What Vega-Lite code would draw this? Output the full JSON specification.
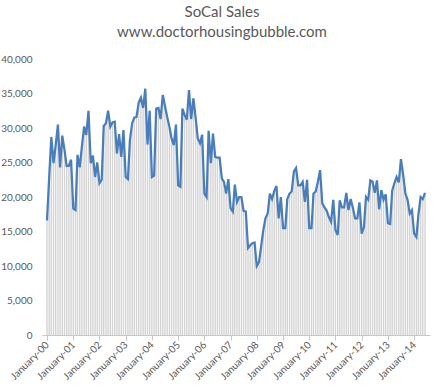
{
  "$schema": "https://vega.github.io/schema/vega-lite/v6.json",
  "width": 388,
  "height": 276,
  "autosize": {"type": "none"},
  "padding": {"left": 42, "top": 59, "right": 7, "bottom": 53},
  "background": "white",
  "config": {"view": {"stroke": null}, "font": "Lato"},
  "title": {
    "text": "SoCal Sales",
    "subtitle": "www.doctorhousingbubble.com",
    "anchor": "middle",
    "dx": -14,
    "fontSize": 15,
    "subtitleFontSize": 15,
    "fontWeight": "normal",
    "color": "#595959",
    "subtitleColor": "#595959",
    "font": "Lato",
    "subtitleFont": "Lato",
    "subtitlePadding": 5,
    "offset": 14
  },
  "data": {"values": [
    {"d":"2000-01","v":16600},{"d":"2000-02","v":23000},{"d":"2000-03","v":28700},{"d":"2000-04","v":24900},{"d":"2000-05","v":27500},{"d":"2000-06","v":30500},{"d":"2000-07","v":24300},{"d":"2000-08","v":28900},{"d":"2000-09","v":26800},{"d":"2000-10","v":24500},{"d":"2000-11","v":24500},{"d":"2000-12","v":25400},
    {"d":"2001-01","v":18300},{"d":"2001-02","v":18100},{"d":"2001-03","v":26100},{"d":"2001-04","v":24300},{"d":"2001-05","v":27300},{"d":"2001-06","v":30200},{"d":"2001-07","v":29000},{"d":"2001-08","v":32500},{"d":"2001-09","v":24900},{"d":"2001-10","v":26000},{"d":"2001-11","v":22900},{"d":"2001-12","v":25000},
    {"d":"2002-01","v":22000},{"d":"2002-02","v":22500},{"d":"2002-03","v":30300},{"d":"2002-04","v":30700},{"d":"2002-05","v":32500},{"d":"2002-06","v":30200},{"d":"2002-07","v":30800},{"d":"2002-08","v":30900},{"d":"2002-09","v":26300},{"d":"2002-10","v":29100},{"d":"2002-11","v":25800},{"d":"2002-12","v":29700},
    {"d":"2003-01","v":22900},{"d":"2003-02","v":22600},{"d":"2003-03","v":28300},{"d":"2003-04","v":30700},{"d":"2003-05","v":31500},{"d":"2003-06","v":31600},{"d":"2003-07","v":33700},{"d":"2003-08","v":34400},{"d":"2003-09","v":32900},{"d":"2003-10","v":35700},{"d":"2003-11","v":27600},{"d":"2003-12","v":32500},
    {"d":"2004-01","v":22900},{"d":"2004-02","v":23100},{"d":"2004-03","v":32800},{"d":"2004-04","v":32900},{"d":"2004-05","v":31300},{"d":"2004-06","v":34800},{"d":"2004-07","v":33200},{"d":"2004-08","v":31600},{"d":"2004-09","v":30200},{"d":"2004-10","v":28500},{"d":"2004-11","v":27500},{"d":"2004-12","v":30500},
    {"d":"2005-01","v":21700},{"d":"2005-02","v":21500},{"d":"2005-03","v":32800},{"d":"2005-04","v":31900},{"d":"2005-05","v":31200},{"d":"2005-06","v":35500},{"d":"2005-07","v":31300},{"d":"2005-08","v":34300},{"d":"2005-09","v":31500},{"d":"2005-10","v":28500},{"d":"2005-11","v":27800},{"d":"2005-12","v":29000},
    {"d":"2006-01","v":20500},{"d":"2006-02","v":20000},{"d":"2006-03","v":29600},{"d":"2006-04","v":24900},{"d":"2006-05","v":29200},{"d":"2006-06","v":25800},{"d":"2006-07","v":25700},{"d":"2006-08","v":25700},{"d":"2006-09","v":22700},{"d":"2006-10","v":22200},{"d":"2006-11","v":20500},{"d":"2006-12","v":22600},
    {"d":"2007-01","v":18400},{"d":"2007-02","v":17900},{"d":"2007-03","v":21800},{"d":"2007-04","v":19300},{"d":"2007-05","v":20000},{"d":"2007-06","v":20000},{"d":"2007-07","v":18000},{"d":"2007-08","v":17900},{"d":"2007-09","v":12600},{"d":"2007-10","v":13000},{"d":"2007-11","v":13300},{"d":"2007-12","v":13400},
    {"d":"2008-01","v":10000},{"d":"2008-02","v":10600},{"d":"2008-03","v":12800},{"d":"2008-04","v":15200},{"d":"2008-05","v":16900},{"d":"2008-06","v":17600},{"d":"2008-07","v":20500},{"d":"2008-08","v":19700},{"d":"2008-09","v":20900},{"d":"2008-10","v":21600},{"d":"2008-11","v":16900},{"d":"2008-12","v":20000},
    {"d":"2009-01","v":15500},{"d":"2009-02","v":15500},{"d":"2009-03","v":19700},{"d":"2009-04","v":20500},{"d":"2009-05","v":20800},{"d":"2009-06","v":23700},{"d":"2009-07","v":24200},{"d":"2009-08","v":21700},{"d":"2009-09","v":21700},{"d":"2009-10","v":22200},{"d":"2009-11","v":19300},{"d":"2009-12","v":22500},
    {"d":"2010-01","v":15500},{"d":"2010-02","v":15500},{"d":"2010-03","v":20500},{"d":"2010-04","v":20800},{"d":"2010-05","v":22200},{"d":"2010-06","v":23900},{"d":"2010-07","v":19100},{"d":"2010-08","v":18500},{"d":"2010-09","v":18000},{"d":"2010-10","v":17100},{"d":"2010-11","v":16400},{"d":"2010-12","v":19600},
    {"d":"2011-01","v":15200},{"d":"2011-02","v":14500},{"d":"2011-03","v":19500},{"d":"2011-04","v":18500},{"d":"2011-05","v":18500},{"d":"2011-06","v":20600},{"d":"2011-07","v":18100},{"d":"2011-08","v":19700},{"d":"2011-09","v":18400},{"d":"2011-10","v":16900},{"d":"2011-11","v":16900},{"d":"2011-12","v":19200},
    {"d":"2012-01","v":14700},{"d":"2012-02","v":15600},{"d":"2012-03","v":20000},{"d":"2012-04","v":19600},{"d":"2012-05","v":22400},{"d":"2012-06","v":22200},{"d":"2012-07","v":20600},{"d":"2012-08","v":22400},{"d":"2012-09","v":18200},{"d":"2012-10","v":21000},{"d":"2012-11","v":19600},{"d":"2012-12","v":20400},
    {"d":"2013-01","v":16200},{"d":"2013-02","v":16100},{"d":"2013-03","v":20900},{"d":"2013-04","v":22000},{"d":"2013-05","v":22900},{"d":"2013-06","v":22100},{"d":"2013-07","v":25500},{"d":"2013-08","v":23200},{"d":"2013-09","v":20500},{"d":"2013-10","v":19600},{"d":"2013-11","v":17600},{"d":"2013-12","v":18100},
    {"d":"2014-01","v":14700},{"d":"2014-02","v":14200},{"d":"2014-03","v":17400},{"d":"2014-04","v":20000},{"d":"2014-05","v":19700},{"d":"2014-06","v":20600}
  ]},
  "encoding": {
    "x": {
      "field": "d",
      "type": "temporal",
      "scale": {"type": "utc", "domain": ["2000-01", "2014-06"], "nice": false},
      "axis": {
        "title": null,
        "values": ["2000-01","2001-01","2002-01","2003-01","2004-01","2005-01","2006-01","2007-01","2008-01","2009-01","2010-01","2011-01","2012-01","2013-01","2014-01"],
        "labelExpr": "utcFormat(datum.value, '%B-%y')",
        "grid": false,
        "domainColor": "#c8c8c8",
        "tickColor": "#c8c8c8",
        "tickSize": 5,
        "labelAngle": -45,
        "labelAlign": "right",
        "labelBaseline": "middle",
        "labelPadding": 3,
        "labelFontSize": 10,
        "labelColor": "#595959",
        "labelFont": "Lato",
        "labelOverlap": false,
        "labelFlush": false
      }
    },
    "y": {
      "field": "v",
      "type": "quantitative",
      "scale": {"domain": [0, 40000], "nice": false},
      "axis": {
        "title": null,
        "values": [0, 5000, 10000, 15000, 20000, 25000, 30000, 35000, 40000],
        "format": ",d",
        "grid": false,
        "domain": false,
        "ticks": false,
        "labelPadding": 10,
        "labelFontSize": 10,
        "labelColor": "#595959",
        "labelFont": "Lato"
      }
    }
  },
  "layer": [
    {"mark": {"type": "bar", "color": "#d4d4d4", "width": 1.4}},
    {"mark": {"type": "line", "color": "#4a7ebb", "strokeWidth": 2.25}}
  ]
}
